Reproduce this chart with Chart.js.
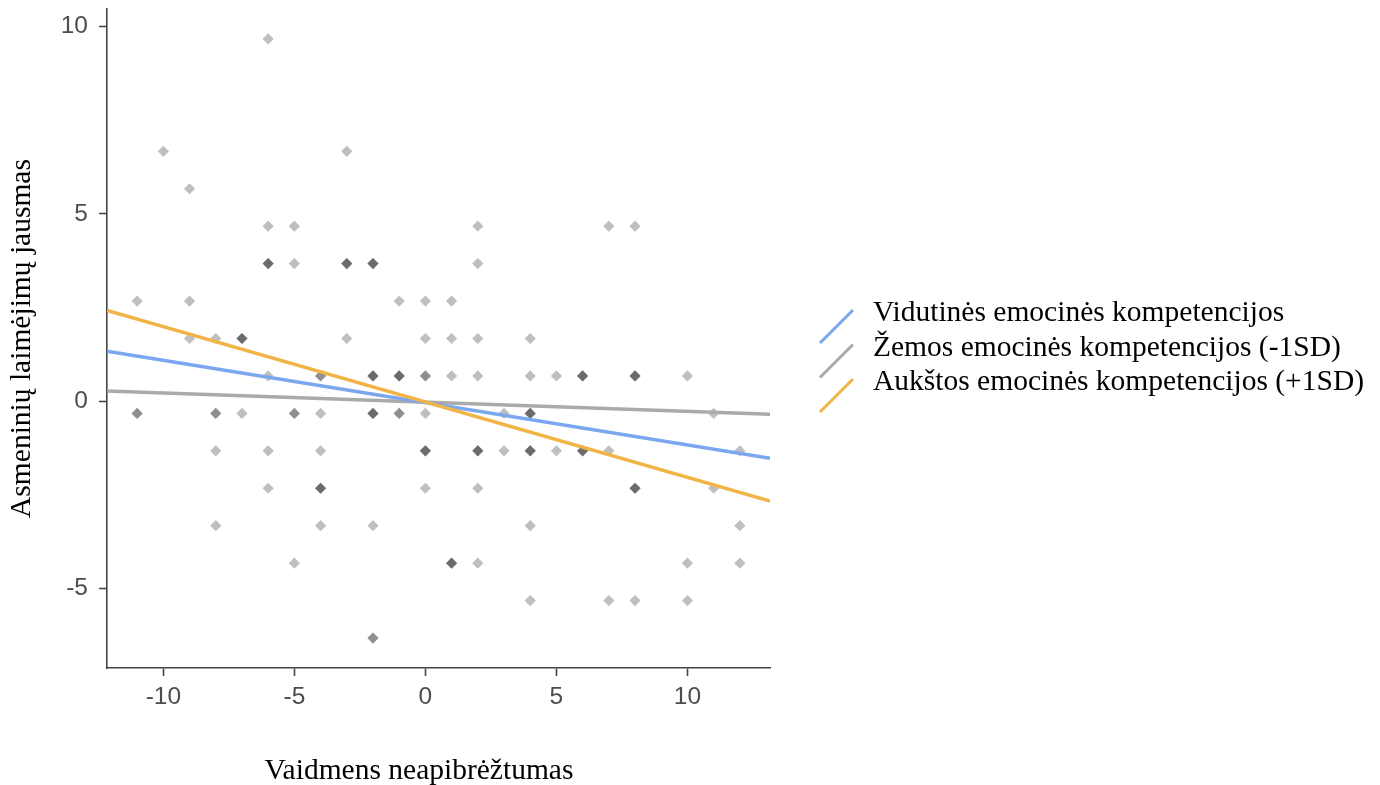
<!DOCTYPE html>
<html>
<head>
<meta charset="utf-8">
<script src="https://cdn.jsdelivr.net/npm/chart.js@4"></script>
<style>
  html, body { margin: 0; padding: 0; background: #fff; }
  #wrap { width: 1380px; height: 785px; }
</style>
</head>
<body>
<div id="wrap"><canvas id="chart"></canvas></div>
<script>
// axis setup
const xTicks = [-10, -5, 0, 5, 10];
const yTicks = [-5, 0, 5, 10];
const xRange = [-12.15, 13.15];
const yRange = [-7.13, 10.47];

// respondents: x, y and how many of them share the same spot
const pointX = [
  -6,
  -10, -3,
  -9,
  -6, -5, 2, 7, 8,
  -6, -5, -3, -2, 2,
  -11, -9, -1, 0, 1,
  -9, -8, -7, -3, 0, 1, 2, 4,
  -6, -4, -2, -1, 0, 1, 2, 4, 5, 6, 8, 10,
  -11, -8, -7, -5, -4, -2, -1, 0, 3, 4, 11,
  -8, -6, -4, 0, 2, 3, 4, 5, 6, 7, 12,
  -6, -4, 0, 2, 8, 11,
  -8, -4, -2, 4, 12,
  -5, 1, 2, 10, 12,
  4, 7, 8, 10,
  -2
];
const pointY = [
  9.67,
  6.67, 6.67,
  5.67,
  4.67, 4.67, 4.67, 4.67, 4.67,
  3.67, 3.67, 3.67, 3.67, 3.67,
  2.67, 2.67, 2.67, 2.67, 2.67,
  1.67, 1.67, 1.67, 1.67, 1.67, 1.67, 1.67, 1.67,
  0.67, 0.67, 0.67, 0.67, 0.67, 0.67, 0.67, 0.67, 0.67, 0.67, 0.67, 0.67,
  -0.33, -0.33, -0.33, -0.33, -0.33, -0.33, -0.33, -0.33, -0.33, -0.33, -0.33,
  -1.33, -1.33, -1.33, -1.33, -1.33, -1.33, -1.33, -1.33, -1.33, -1.33, -1.33,
  -2.33, -2.33, -2.33, -2.33, -2.33, -2.33,
  -3.33, -3.33, -3.33, -3.33, -3.33,
  -4.33, -4.33, -4.33, -4.33, -4.33,
  -5.33, -5.33, -5.33, -5.33,
  -6.33
];
const pointN = [
  1,
  1, 1,
  1,
  1, 1, 1, 1, 1,
  3, 1, 3, 3, 1,
  1, 1, 1, 1, 1,
  1, 1, 3, 1, 1, 1, 1, 1,
  1, 2, 3, 3, 2, 1, 1, 1, 1, 3, 3, 1,
  2, 2, 1, 2, 1, 3, 2, 1, 1, 3, 1,
  1, 1, 1, 3, 3, 1, 3, 1, 3, 1, 1,
  1, 3, 1, 1, 3, 1,
  1, 1, 1, 1, 1,
  1, 3, 1, 1, 1,
  1, 1, 1, 1,
  2
];

// simple slopes at mean, -1SD and +1SD of emotional competence
const lineX = [-12.15, 13.15];
const lineMid = [1.33, -1.53];
const lineLow = [0.27, -0.35];
const lineHigh = [2.42, -2.67];

const labelMid = 'Vidutinės emocinės kompetencijos';
const labelLow = 'Žemos emocinės kompetencijos (-1SD)';
const labelHigh = 'Aukštos emocinės kompetencijos (+1SD)';
const xTitle = 'Vaidmens neapibrėžtumas';
const yTitle = 'Asmeninių laimėjimų jausmas';

const toLine = ys => lineX.map((x, i) => ({ x, y: ys[i] }));

const scatterData = [];
pointX.forEach((x, i) => {
  for (let k = 0; k < pointN[i]; k++) scatterData.push({ x, y: pointY[i] });
});

const serif = '"Liberation Serif", "Times New Roman", serif';

// legend with slanted keys next to the plot, plus the x axis title
const slopeLegend = {
  id: 'slopeLegend',
  afterDraw(chart) {
    const ctx = chart.ctx;
    const order = [1, 2, 0];
    const left = chart.chartArea.right + 50;
    ctx.save();
    ctx.font = '29.5px ' + serif;
    ctx.textBaseline = 'alphabetic';
    order.forEach((idx, i) => {
      const ds = chart.data.datasets[idx];
      const base = 321 + i * 34.5;
      ctx.strokeStyle = ds.borderColor;
      ctx.lineWidth = 3;
      ctx.beginPath();
      ctx.moveTo(left, base + 22);
      ctx.lineTo(left + 33, base - 11);
      ctx.stroke();
      ctx.fillStyle = '#000';
      ctx.fillText(ds.label, left + 53, base);
    });

    ctx.textAlign = 'center';
    ctx.fillText(xTitle, 419, 779);
    ctx.restore();
  }
};

const tickFont = { family: '"Liberation Sans", Arial, sans-serif', size: 24.5 };
const titleFont = { family: serif, size: 29.5, lineHeight: 1.1 };

const noEdgePadding = s => {
  s.paddingTop = 0;
  s.paddingBottom = 0;
  s.paddingLeft = 0;
  s.paddingRight = 0;
};

new Chart(document.getElementById('chart'), {
  type: 'scatter',
  data: {
    datasets: [
      {
        label: labelHigh,
        data: toLine(lineHigh),
        showLine: true,
        borderColor: '#f0b447',
        borderWidth: 3.5,
        pointRadius: 0
      },
      {
        label: labelMid,
        data: toLine(lineMid),
        showLine: true,
        borderColor: '#7ba7ef',
        borderWidth: 3.5,
        pointRadius: 0
      },
      {
        label: labelLow,
        data: toLine(lineLow),
        showLine: true,
        borderColor: '#aaaaaa',
        borderWidth: 3.5,
        pointRadius: 0
      },
      {
        label: 'points',
        data: scatterData,
        pointStyle: 'rectRot',
        pointRadius: 5.6,
        borderWidth: 0,
        backgroundColor: 'rgba(0, 0, 0, 0.25)'
      }
    ]
  },
  options: {
    responsive: true,
    maintainAspectRatio: false,
    animation: false,
    events: [],
    layout: { padding: { top: 9, right: 610, bottom: 0, left: 0 } },
    plugins: {
      legend: { display: false },
      tooltip: { enabled: false }
    },
    scales: {
      x: {
        type: 'linear',
        min: xRange[0],
        max: xRange[1],
        afterBuildTicks: s => { s.ticks = xTicks.map(v => ({ value: v })); },
        afterFit: s => { s.height = 117; noEdgePadding(s); },
        grid: { drawOnChartArea: false, tickLength: 8, tickColor: '#444', tickWidth: 1.6 },
        border: { color: '#444', width: 1.6 },
        ticks: { font: tickFont, color: '#4d4d4d', padding: 7 },
        title: { display: false }
      },
      y: {
        type: 'linear',
        min: yRange[0],
        max: yRange[1],
        afterBuildTicks: s => { s.ticks = yTicks.map(v => ({ value: v })); },
        afterFit: s => { s.width = 107; noEdgePadding(s); },
        grid: { drawOnChartArea: false, tickLength: 8, tickColor: '#444', tickWidth: 1.6 },
        border: { color: '#444', width: 1.6 },
        ticks: { font: tickFont, color: '#4d4d4d', padding: 11 },
        title: {
          display: true,
          text: yTitle,
          font: titleFont,
          color: '#000',
          padding: { top: 6, bottom: 0 }
        }
      }
    }
  },
  plugins: [slopeLegend]
});
</script>
</body>
</html>
